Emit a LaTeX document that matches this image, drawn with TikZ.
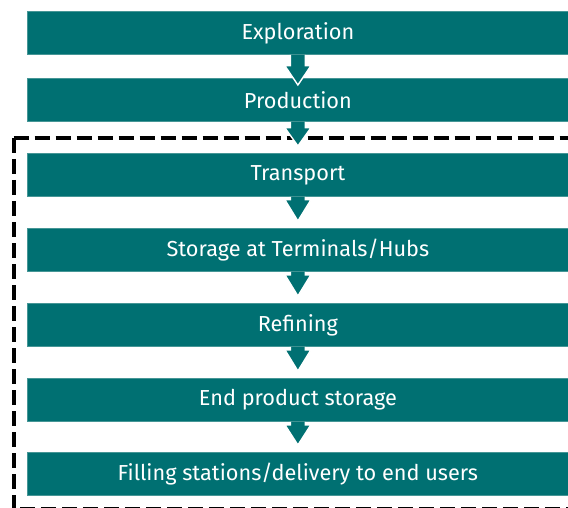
\documentclass[tikz,border=0pt]{standalone}
\usepackage{fontspec}
\setmainfont{Fira Sans}
\usetikzlibrary{calc}
\definecolor{stageteal}{RGB}{0,112,114}
\definecolor{stageedge}{RGB}{70,150,150}
\tikzset{
  stagebox/.style={rectangle, anchor=north west, inner sep=0pt,
    minimum width=541pt, minimum height=43pt,
    fill=stageteal, draw=stageedge, line width=0.8pt,
    text=white, font=\fontsize{21.7}{26}\selectfont},
  flowhead/.style={fill=stageteal, draw=white, line width=1.4pt, line join=miter},
  scopeframe/.style={draw=black, line width=4pt, dash pattern=on 15pt off 6pt}
}
% block arrow from the bottom of #1 towards #2;
% #3: where the head starts below #1, #4: where the tip lies relative to the top of #2
\newcommand\flowarrow[4]{%
  \filldraw[flowhead]
    ($(#1.south)+(-7.5,0)$) -- ($(#1.south)+(-7.5,#3)$) -- ($(#1.south)+(-13,#3)$)
    -- ($(#2.north)+(0,#4)$)
    -- ($(#1.south)+(13,#3)$) -- ($(#1.south)+(7.5,#3)$) -- ($(#1.south)+(7.5,0)$);}
\begin{document}
\begin{tikzpicture}[x=1pt,y=-1pt]
\useasboundingbox (0,0) rectangle (568,508);
% value chain stages
\node[stagebox] (explore) at (27,11)  {Exploration};
\node[stagebox] (produce) at (27,78)  {Production};
\node[stagebox] (transp)  at (27,153) {Transport};
\node[stagebox] (hubs)    at (27,228) {Storage at Terminals/Hubs};
\node[stagebox] (refine)  at (27,303) {Refining};
\node[stagebox] (endstor) at (27,378) {End product storage};
\node[stagebox] (filling) at (27,452) {Filling stations/delivery to end users};
% downstream part of the chain
\draw[scopeframe] (13.5,138) -- (580,138) (13.5,138) -- (13.5,509.2) -- (580,509.2);
% arrows between stages
\flowarrow{explore}{produce}{11}{7}
\flowarrow{produce}{transp}{6}{-7}
\flowarrow{transp}{hubs}{3}{-7}
\flowarrow{hubs}{refine}{3}{-7}
\flowarrow{refine}{endstor}{3}{-7}
\flowarrow{endstor}{filling}{3}{-7}
\end{tikzpicture}
\end{document}
